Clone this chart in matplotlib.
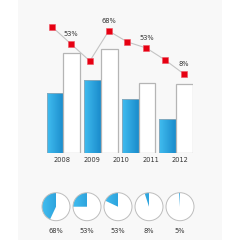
import numpy as np
import matplotlib
matplotlib.use('Agg')
import matplotlib.pyplot as plt
from matplotlib.patches import Rectangle, Circle
from matplotlib.colors import LinearSegmentedColormap

# data
years = ['2008', '2009', '2010', '2011', '2012']
blue_vals = [60, 73, 54, 34]
white_vals = [100, 104, 70, 69]
line_vals = [126, 109, 92, 122, 111, 105, 93, 79]
line_labels = {1: '53%', 3: '68%', 5: '53%', 7: '8%'}
pie_fracs = [0.43, 0.25, 0.18, 0.05, 0.01]
pie_labels = ['68%', '53%', '53%', '8%', '5%']

text_col = '#333333'
blue_cmap = LinearSegmentedColormap.from_list('b', ['#41bdf0', '#1a8bcb'])
grad = np.linspace(0, 1, 64).reshape(1, -1)

fig = plt.figure(figsize=(2.4, 2.4), dpi=100)
fig.patch.set_facecolor('white')
fig.patches.append(Rectangle((18 / 240, 0), 204 / 240, 1, transform=fig.transFigure,
                             facecolor='#f8f8f8', edgecolor='none', zorder=-10))

# bars + line
ax = fig.add_axes([46.7 / 240, 87 / 240, 146 / 240, 153 / 240])
w = 0.444
x = np.arange(len(blue_vals))
bbars = ax.bar(x - w / 2, blue_vals, w, color='none', edgecolor='#8fa9b8', linewidth=0.6, zorder=2)
for b in bbars:
    x0, y0 = b.get_x(), b.get_y()
    im = ax.imshow(grad, cmap=blue_cmap, aspect='auto', zorder=1,
                   extent=[x0, x0 + b.get_width(), y0, y0 + b.get_height()])
    im.set_clip_path(b)
ax.bar(x + w / 2, white_vals, w, color='white', edgecolor='#b5b5b5', linewidth=0.9, zorder=2)
ax.set_xlim(-0.44, 3.44)
ax.set_ylim(0, 153)
ax.axis('off')

lx = -0.293 + 0.5 * np.arange(len(line_vals))
ax.plot(lx, line_vals, color='#c4c4c4', lw=0.8, zorder=3, clip_on=False)
ax.plot(lx, line_vals, 's', color='#e60012', ms=4.4, mec='#f05060', mew=0.4, zorder=4, clip_on=False)
for i, t in line_labels.items():
    ax.annotate(t, (lx[i], line_vals[i]), xytext=(0, 10), textcoords='offset pixels',
                ha='center', va='center', fontsize=4.8, color=text_col)

yx = -0.035 + 0.785 * np.arange(len(years))
for xi, t in zip(yx, years):
    ax.text(xi, -7, t, ha='center', va='center', fontsize=4.8, color=text_col, clip_on=False)

# pies (y axis inverted, so start at -90 and go clockwise in data = counter-clockwise on screen)
pax = fig.add_axes([0, 0, 1, 60 / 240])
cx = np.linspace(56, 180, len(pie_fracs))
r = 14
for c, f, t in zip(cx, pie_fracs, pie_labels):
    wedges, _ = pax.pie([f, 1 - f], center=(c, 26.7), radius=r, startangle=-90,
                        counterclock=False, colors=['none', 'white'],
                        wedgeprops=dict(linewidth=0), frame=True)
    im = pax.imshow(grad, cmap=blue_cmap, aspect='auto', zorder=1,
                    extent=[c - r, c + r, 26.7 - r, 26.7 + r])
    im.set_clip_path(wedges[0])
    pax.add_patch(Circle((c, 26.7), r, fill=False, edgecolor='#bdbdbd', lw=0.7, zorder=3))
    pax.text(c, 50.7, t, ha='center', va='center', fontsize=4.8, color=text_col)
pax.set_xlim(0, 240)
pax.set_ylim(60, 0)
pax.set_aspect('equal')
pax.axis('off')

fig.savefig('out.png', dpi=100, facecolor='white')
